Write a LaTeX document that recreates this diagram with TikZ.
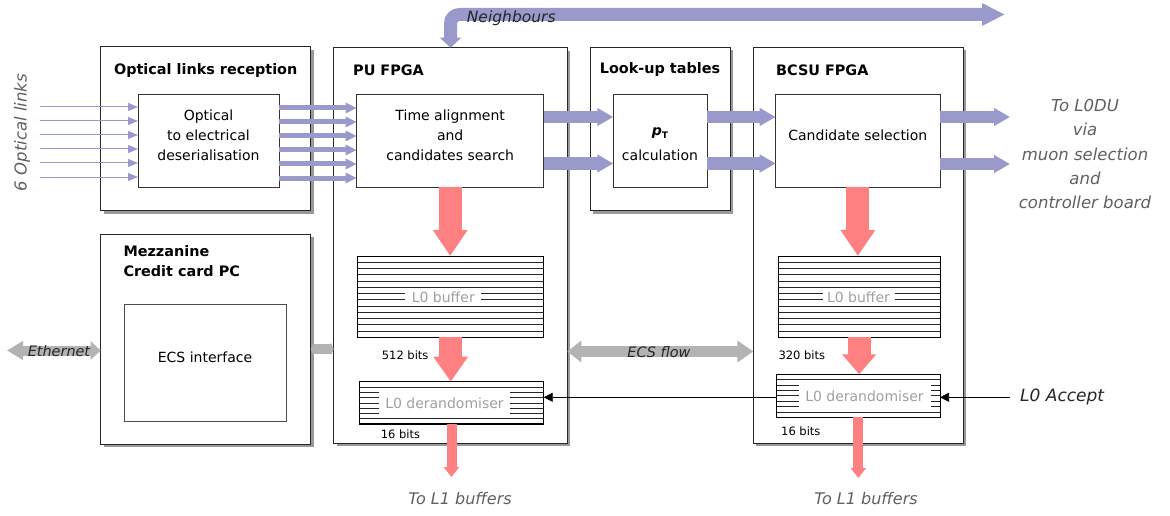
\documentclass[tikz,border=0pt]{standalone}
\usepackage{fontspec}
\setmainfont{DejaVu Sans}
\usetikzlibrary{arrows.meta,fit,shadows}
\definecolor{lav}{HTML}{9999CC}
\definecolor{pinkc}{HTML}{FF8080}
\definecolor{grayar}{HTML}{B3B3B3}
\definecolor{softtxt}{HTML}{606060}
\definecolor{buftxt}{HTML}{A0A0A0}
\begin{document}
\begin{tikzpicture}[x=1pt,y=-1pt,
  outerbox/.style={draw=black!85, line width=0.9pt, fill=white, inner sep=0pt, outer sep=0pt,
    drop shadow={shadow xshift=3pt,shadow yshift=-3pt,fill=black!40,opacity=1}},
  innerbox/.style={draw=black!80, line width=0.8pt, fill=white, inner sep=0pt, outer sep=0pt,
    align=center, font=\fontsize{14}{20}\selectfont},
  bufbox/.style={draw=black, line width=0.9pt, fill=white, inner sep=0pt, outer sep=0pt},
  stripe/.style={line width=0.7pt, draw=black!85},
  titletext/.style={font=\bfseries\fontsize{14.4}{20}\selectfont, inner sep=0pt},
  buftext/.style={fill=white, text=buftxt, inner sep=0pt, font=\fontsize{14}{16}\selectfont},
  bitstext/.style={font=\fontsize{11.5}{13}\selectfont, inner sep=0pt, anchor=west},
  softtext/.style={text=softtxt, font=\itshape\fontsize{16.5}{24.3}\selectfont, inner sep=0pt, align=center},
  darkit/.style={text=black!85, font=\itshape\fontsize{14.4}{16}\selectfont, inner sep=0pt},
  lavthin/.style={draw=lav, line width=1pt, -{Triangle[length=10pt,width=8pt]}},
  lavsix/.style={draw=lav, line width=5pt, -{Triangle[length=11pt,width=10pt]}},
  lavmid/.style={draw=lav, line width=12pt, -{Triangle[length=16pt,width=17pt]}},
  pinkbig/.style={draw=pinkc, line width=23pt, -{Triangle[length=26pt,width=33pt]}},
  pinksmall/.style={draw=pinkc, line width=10pt, -{Triangle[length=10pt,width=15pt]}},
  grayfat/.style={draw=grayar},
  blackarrow/.style={draw=black, line width=0.6pt, -{Triangle[length=9pt,width=9pt]}}
]
\useasboundingbox[fill=white] (0,0) rectangle (1170,516);

% outer boxes
\node[outerbox, fit={(100.7,46.7) (310.7,210.7)}] (olr) {};
\node[outerbox, fit={(100.7,234) (310.7,444)}] (mez) {};
\node[outerbox, fit={(333.7,47.7) (567.3,443.3)}] (pu) {};
\node[outerbox, fit={(590.3,47.3) (730.3,210.7)}] (lut) {};
\node[outerbox, fit={(753.3,47.3) (963.3,443.3)}] (bcsu) {};

% titles
\node[titletext] (olrt) at (205.7,71) {Optical links reception};
\node[titletext, anchor=west] (put) at (353,70) {PU FPGA};
\node[titletext] (lutt) at (660,70) {Look-up tables};
\node[titletext, anchor=west] (bcsut) at (776,70) {BCSU FPGA};
\node[titletext, anchor=west, align=left] (mezt) at (123.3,261) {Mezzanine\\Credit card PC};

% inner boxes
\node[innerbox, fit={(138,94) (279,187)}] (deser) {Optical\\to electrical\\deserialisation};
\node[innerbox, fit={(356.7,94) (543.7,187)}] (tas) {Time alignment\\and\\candidates search};
\node[innerbox, fit={(613.3,94) (707,187)}] (ptc) {};
\node[inner sep=0pt, font=\fontsize{14}{20}\selectfont] (ptp) at (660,133) {{\bfseries\itshape p}\raisebox{-3pt}{\bfseries\fontsize{9}{10}\selectfont T}};
\node[inner sep=0pt, font=\fontsize{14}{20}\selectfont] (ptcl) at (660,155) {calculation};
\node[innerbox, fit={(775.7,94) (940,187)}] (cand) {Candidate selection};
\node[innerbox, draw=black!70, fit={(124,304) (286,421)}] (ecs) {ECS interface};

% buffers
\node[bufbox, fit={(357.7,256) (543.7,337.3)}] (buf1) {};
\node[bufbox, fit={(359.3,381.7) (543.7,424)}] (der1) {};
\node[bufbox, fit={(778.3,256) (940,337.3)}] (buf2) {};
\node[bufbox, fit={(776.7,374.3) (940,417.3)}] (der2) {};
\foreach \k in {1,...,12} {
  \draw[stripe] ([yshift=-\k*6.25pt]buf1.north west) -- ([yshift=-\k*6.25pt]buf1.north east);
  \draw[stripe] ([yshift=-\k*6.25pt]buf2.north west) -- ([yshift=-\k*6.25pt]buf2.north east);
}
\foreach \k in {1,...,7} {
  \draw[stripe] ([yshift=-\k*5.29pt]der1.north west) -- ([yshift=-\k*5.29pt]der1.north east);
  \draw[stripe] ([yshift=-\k*5.37pt]der2.north west) -- ([yshift=-\k*5.37pt]der2.north east);
}
\draw[line width=1.8pt] (der1.south west) -- (der1.south east);
\draw[line width=1.2pt] (der2.south west) -- (der2.south east);
\node[buftext, minimum width=76pt, minimum height=16pt] (buf1t) at (443.3,297) {L0 buffer};
\node[buftext, minimum width=72pt, minimum height=16pt] (buf2t) at (858.5,297) {L0 buffer};
\node[buftext, minimum width=131pt, minimum height=24pt] (der1t) at (444.5,402.8) {L0 derandomiser};
\node[buftext, minimum width=132pt, minimum height=24pt] (der2t) at (864.5,395.8) {L0 derandomiser};

% bits labels
\node[bitstext] (b512) at (381.7,355) {512 bits};
\node[bitstext] (b16a) at (380.7,434) {16 bits};
\node[bitstext] (b320) at (778.3,355) {320 bits};
\node[bitstext] (b16b) at (781,431.7) {16 bits};

% input optical links
\foreach \yy [count=\i] in {107,121,135,149,163,177} {
  \coordinate (in\i) at (40,\yy);
  \draw[lavthin] (in\i) -- (deser.west |- in\i);
}
\foreach \yy in {108,122,136,150,164,178} {
  \draw[lavsix] (deser.east |- 0,\yy) -- (tas.west |- 0,\yy);
}
\draw[lavmid] (tas.east |- 0,117) -- (ptc.west |- 0,117);
\draw[lavmid] (tas.east |- 0,163.5) -- (ptc.west |- 0,163.5);
\draw[lavmid] (ptc.east |- 0,117) -- (cand.west |- 0,117);
\draw[lavmid] (ptc.east |- 0,163.5) -- (cand.west |- 0,163.5);
\coordinate (out1) at (1010,117);
\coordinate (out2) at (1010,164);
\draw[lavmid] (cand.east |- out1) -- (out1);
\draw[lavmid] (cand.east |- out2) -- (out2);

% neighbours
\coordinate (nbrR) at (1005,14.5);
\draw[draw=lav, line width=13pt, rounded corners=9pt,
  {Triangle[length=10pt,width=21pt]}-{Triangle[length=23pt,width=21pt]}]
  (pu.north) -- (pu.north |- nbrR) -- (nbrR);
\node[darkit, anchor=west, font=\itshape\fontsize{15.5}{16}\selectfont] (nbrt) at (466.7,18.5) {Neighbours};

% pink arrows
\draw[pinkbig] (tas.south) -- (tas.south |- buf1.north);
\draw[pinkbig, -{Triangle[length=25pt,width=33pt]}] (buf1.south) -- (buf1.south |- der1.north);
\coordinate (l1a) at (451,477);
\draw[pinksmall] (der1.south) -- (der1.south |- l1a);
\draw[pinkbig] (cand.south) -- (cand.south |- buf2.north);
\draw[pinkbig, -{Triangle[length=20pt,width=33pt]}] (buf2.south) -- (buf2.south |- der2.north);
\coordinate (l1b) at (857.5,478);
\draw[pinksmall] (der2.south) -- (der2.south |- l1b);

% gray ECS arrows
\coordinate (eth) at (7,350.5);
\draw[grayfat, line width=10pt, {Triangle[length=16pt,width=18pt]}-{Triangle[length=10pt,width=18pt]}] (eth) -- (mez.west |- eth);
\node[darkit] (etht) at (59,351) {Ethernet};
\draw[grayfat, line width=10pt, {Triangle[length=3pt,width=13pt]}-{Triangle[length=3pt,width=13pt]}] (mez.east |- 0,349) -- (pu.west |- 0,349);
\draw[grayfat, line width=11pt, {Triangle[length=14pt,width=21pt]}-{Triangle[length=16pt,width=21pt]}] (pu.east |- 0,351.5) -- (bcsu.west |- 0,351.5);
\node[darkit] (ecsft) at (659,352) {ECS flow};

% L0 accept
\coordinate (l0a) at (1010,397.3);
\draw[blackarrow] (l0a) -- (der2.east |- l0a);
\draw[blackarrow] (der2.west |- l0a) -- (der1.east |- l0a);
\node[darkit, anchor=west, font=\itshape\fontsize{17}{18}\selectfont] (l0at) at (1020,397) {L0 Accept};

% soft texts
\node[softtext] (l0du) at (1085,154) {To L0DU\\via\\muon selection\\and\\controller board};
\node[softtext, font=\itshape\fontsize{16}{18}\selectfont] (tl1a) at (460,499) {To L1 buffers};
\node[softtext, font=\itshape\fontsize{16}{18}\selectfont] (tl1b) at (866,499) {To L1 buffers};
\node[softtext, rotate=90, font=\itshape\fontsize{16.5}{18}\selectfont] (optl) at (22,132.5) {6 Optical links};
\end{tikzpicture}
\end{document}
